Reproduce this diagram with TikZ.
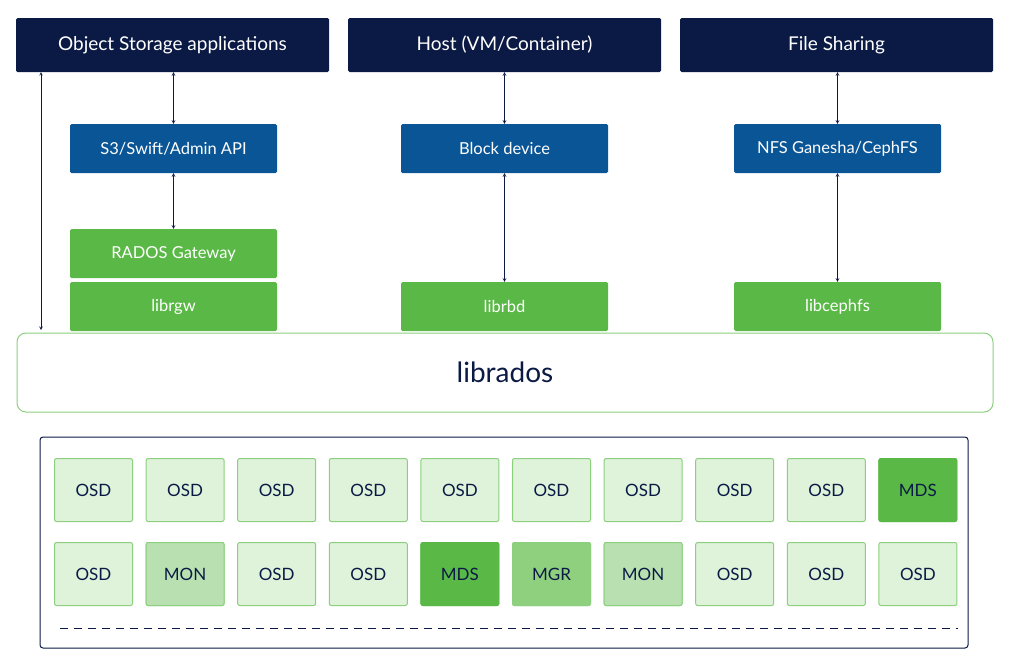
\documentclass[tikz,border=0pt]{standalone}
\usepackage{fontspec}
\setmainfont{Lato}
\usetikzlibrary{arrows}
\definecolor{navy}{HTML}{0B1A45}
\definecolor{cephblue}{HTML}{0A5596}
\definecolor{cephgreen}{HTML}{5AB946}
\definecolor{osdfill}{HTML}{DFF2DA}
\definecolor{osdline}{HTML}{8CCF7E}
\definecolor{monfill}{HTML}{B9E0B0}
\definecolor{mgrfill}{HTML}{8FD07F}
\tikzstyle{arrow} = [semithick,<->,>=stealth,navy]
\tikzstyle{app} = [fill=navy,text=white,minimum width=313pt,minimum height=54pt,rounded corners=1.5pt,font=\fontsize{19}{22}\selectfont]
\tikzstyle{api} = [fill=cephblue,text=white,minimum width=207pt,minimum height=49pt,rounded corners=1.5pt,font=\fontsize{16.5}{19}\selectfont]
\tikzstyle{lib} = [fill=cephgreen,text=white,minimum width=207pt,minimum height=49pt,rounded corners=1.5pt,font=\fontsize{16.5}{19}\selectfont]
\tikzstyle{cell} = [draw=osdline,line width=1pt,fill=osdfill,text=navy,minimum width=78pt,minimum height=63pt,rounded corners=2pt,font=\fontsize{17}{20}\selectfont]
\begin{document}
\begin{tikzpicture}[x=1pt,y=-1pt]
			\useasboundingbox (0,0) rectangle (1024,665);
			
			% Applications
			\node [app] (obj) at (172.5,45) {Object Storage applications};
			\node [app] (host) at (504.5,45) {Host (VM/Container)};
			\node [app] (file) at (836.5,45) {File Sharing};
			
			% Interfaces
			\node [api] (s3) at (173.5,148.5) {S3/Swift/Admin API};
			\node [api] (blk) at (504.5,148.5) {Block device};
			\node [api] (nfs) at (837.5,148.5) {NFS Ganesha/CephFS};
			
			\node [lib] (rgw) at (173.5,253.5) {RADOS Gateway};
			\node [lib] (librgw) at (173.5,306.5) {librgw};
			\node [lib] (librbd) at (504.5,306.5) {librbd};
			\node [lib] (libcephfs) at (837.5,306.5) {libcephfs};
			
			% librados
			\node [draw=osdline,line width=1pt,fill=white,rounded corners=9pt,minimum width=976pt,minimum height=79pt,font=\fontsize{28}{33}\selectfont,text=navy] (librados) at (505,372.5) {librados};
			
			\draw [arrow] (obj.south -| s3) -- (s3);
			\draw [arrow] (s3) -- (rgw);
			\draw [arrow] (host) -- (blk);
			\draw [arrow] (blk) -- (librbd);
			\draw [arrow] (file.south -| nfs) -- (nfs);
			\draw [arrow] (nfs) -- (libcephfs);
			\coordinate (objl) at (41,72);
			\coordinate (radl) at (41,330);
			\draw [arrow] (objl) -- (radl);
			
			% Cluster
			\draw [navy,line width=1pt,rounded corners=3pt] (40,437) rectangle (968,648);
			\foreach \t [count=\i from 0] in {OSD,OSD,OSD,OSD,OSD,OSD,OSD,OSD,OSD,MDS}
				\node [cell] (a\i) at (93.5+91.6*\i,490) {\t};
			\foreach \t [count=\i from 0] in {OSD,MON,OSD,OSD,MDS,MGR,MON,OSD,OSD,OSD}
				\node [cell] (b\i) at (93.5+91.6*\i,574) {\t};
			\node [cell,fill=cephgreen,draw=cephgreen] at (a9) {MDS};
			\node [cell,fill=monfill] at (b1) {MON};
			\node [cell,fill=cephgreen,draw=cephgreen] at (b4) {MDS};
			\node [cell,fill=mgrfill] at (b5) {MGR};
			\node [cell,fill=monfill] at (b6) {MON};
			\draw [navy,dashed,dash pattern=on 8pt off 6pt] (60,628) -- (958,628);
			
\end{tikzpicture}
\end{document}
